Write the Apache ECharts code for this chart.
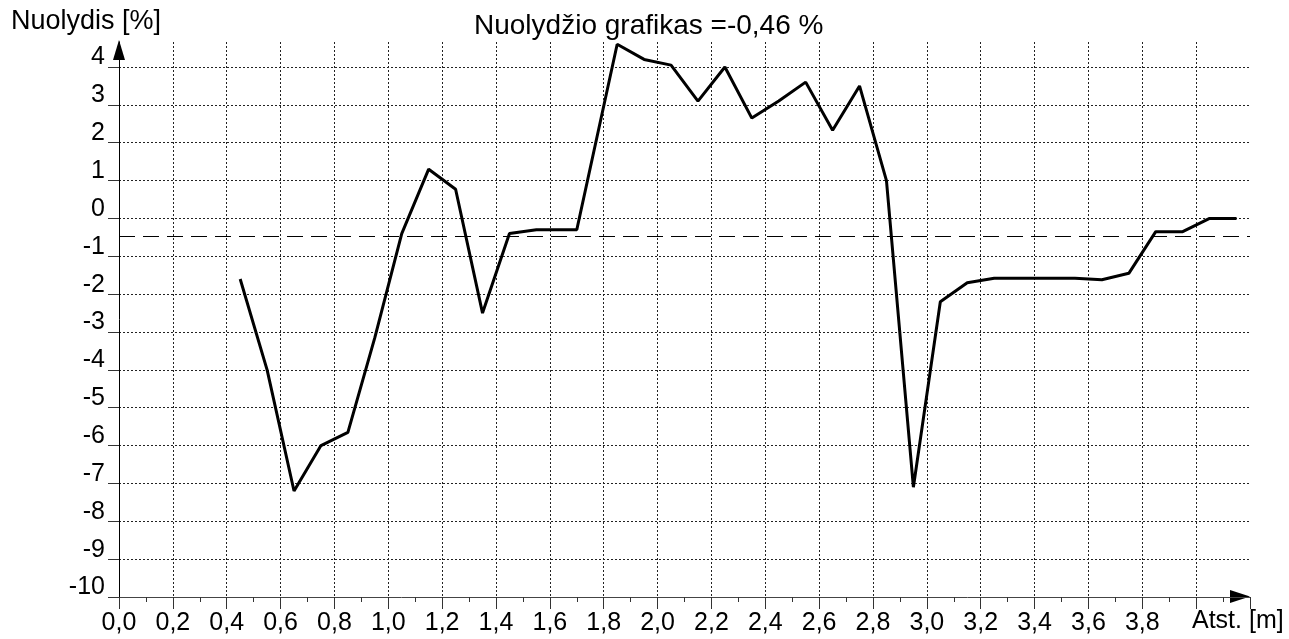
<!DOCTYPE html>
<html>
<head>
<meta charset="utf-8">
<script src="https://cdn.jsdelivr.net/npm/echarts@6/dist/echarts.min.js"></script>
<style>
  html, body { margin: 0; padding: 0; background: #fff; }
  #main { width: 1289px; height: 639px; }
</style>
</head>
<body>
<div id="main"></div>
<script>
// atstumas [m]
const distances = [0.45, 0.55, 0.65, 0.75, 0.85, 0.95, 1.05, 1.15, 1.25, 1.35,
  1.45, 1.55, 1.70, 1.85, 1.95, 2.05, 2.15, 2.25, 2.35, 2.45,
  2.55, 2.65, 2.75, 2.85, 2.95, 3.05, 3.15, 3.25, 3.35, 3.45,
  3.55, 3.65, 3.75, 3.85, 3.95, 4.05, 4.15];
// nuolydis [%]
const slopes = [-1.6, -4.0, -7.2, -6.0, -5.65, -3.15, -0.4, 1.3, 0.77, -2.5,
  -0.4, -0.3, -0.3, 4.6, 4.2, 4.05, 3.1, 4.0, 2.65, 3.1,
  3.6, 2.33, 3.5, 1.0, -7.1, -2.2, -1.7, -1.58, -1.58, -1.58,
  -1.58, -1.62, -1.45, -0.35, -0.35, 0, 0];
const meanSlope = -0.46;
const yTicks = [-10, -9, -8, -7, -6, -5, -4, -3, -2, -1, 0, 1, 2, 3, 4];
const xTicks = [0, 0.2, 0.4, 0.6, 0.8, 1.0, 1.2, 1.4, 1.6, 1.8, 2.0, 2.2, 2.4, 2.6, 2.8, 3.0, 3.2, 3.4, 3.6, 3.8];

const font = "'Liberation Sans', Arial, sans-serif";
const chart = echarts.init(document.getElementById("main"));

const option = {
  animation: false,
  backgroundColor: "#fff",
  textStyle: { fontFamily: font },
  title: {
    text: "Nuolydžio grafikas =" + String(meanSlope).replace(".", ",") + " %",
    left: 469,
    top: 7,
    textStyle: { fontFamily: font, fontSize: 28, fontWeight: "normal", color: "#000" },
  },
  grid: { left: 119, right: 39, top: 42, bottom: 42, containLabel: false },
  xAxis: {
    type: "value",
    min: 0,
    max: 4.2,
    interval: 0.2,
    axisLine: { show: true, onZero: false, lineStyle: { color: "#444", width: 1 } },
    axisTick: { show: true, inside: false, length: 12, lineStyle: { color: "#333", width: 1 } },
    minorTick: { show: true, splitNumber: 2, length: 5, lineStyle: { color: "#333", width: 1 } },
    axisLabel: {
      margin: 14,
      fontSize: 25,
      color: "#000",
      fontFamily: font,
      formatter: (v) => (xTicks.some((t) => Math.abs(t - v) < 1e-6) ? v.toFixed(1).replace(".", ",") : ""),
    },
    splitLine: {
      show: true,
      showMinLine: false,
      showMaxLine: false,
      lineStyle: { color: "#222", type: [2, 2], width: 1 },
    },
  },
  yAxis: {
    type: "value",
    min: -10,
    max: 4.66,
    interval: 1,
    axisLine: { show: true, onZero: false, lineStyle: { color: "#000", width: 1 } },
    axisTick: { show: true, inside: false, length: 11, lineStyle: { color: "#333", width: 1 } },
    axisLabel: {
      margin: 14,
      fontSize: 25,
      color: "#000",
      fontFamily: font,
      verticalAlign: "bottom",
      lineHeight: 19,
      showMaxLabel: false,
      formatter: (v) => (yTicks.indexOf(v) >= 0 ? String(v) : ""),
    },
    splitLine: {
      show: true,
      showMinLine: false,
      showMaxLine: false,
      lineStyle: { color: "#222", type: [2, 2], width: 1 },
    },
  },
  graphic: [
    {
      type: "text",
      left: 11,
      top: 8,
      style: { text: "Nuolydis [%]", fontSize: 27, fontFamily: font, fill: "#000" },
    },
    {
      type: "text",
      left: 1192,
      top: 609,
      style: { text: "Atst. [m]", fontSize: 25, fontFamily: font, fill: "#000" },
    },
    {
      type: "polygon",
      shape: { points: [[119, 40], [113, 60], [125, 60]] },
      style: { fill: "#000" },
    },
    {
      type: "polygon",
      shape: { points: [[1250, 596.5], [1230, 590], [1230, 603]] },
      style: { fill: "#000" },
    },
  ],
  series: [
    {
      type: "line",
      data: distances.map((d, i) => [d, slopes[i]]),
      showSymbol: false,
      lineStyle: { color: "#000", width: 3 },
      markLine: {
        silent: true,
        symbol: "none",
        label: { show: false },
        lineStyle: { color: "#000", type: [16, 8], width: 1 },
        data: [{ yAxis: meanSlope }],
      },
    },
  ],
};

chart.setOption(option);
window.onresize = function () {
  chart.resize();
};
</script>
</body>
</html>
